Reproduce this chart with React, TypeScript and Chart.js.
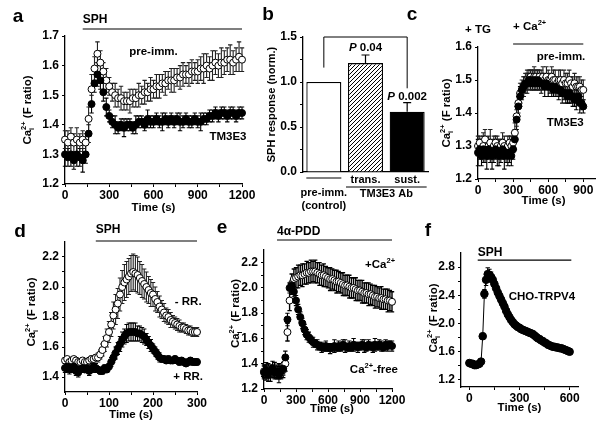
import React, { useEffect, useRef } from "react";
import { Chart, registerables } from "chart.js";

Chart.register(...registerables);

const FONT_FAMILY = '"Liberation Sans", Arial, Helvetica, sans-serif';
const font = (size: number, italic = false) =>
  `${italic ? "italic " : ""}bold ${size}px ${FONT_FAMILY}`;

// ---------------- DATA ----------------
// Panel a (time in s, Ca ratio)
const timeA = [
  0, 20, 40, 60, 80, 100, 120, 140, 160, 180,
  200, 220, 240, 260, 280, 300, 320, 340, 360, 380,
  400, 420, 440, 460, 480, 500, 520, 540, 560, 580,
  600, 620, 640, 660, 680, 700, 720, 740, 760, 780,
  800, 820, 840, 860, 880, 900, 920, 940, 960, 980,
  1000, 1020, 1040, 1060, 1080, 1100, 1120, 1140, 1160, 1180,
  1200,
];
const preImmA = [
  1.35, 1.34, 1.36, 1.34, 1.35, 1.34, 1.35, 1.34, 1.42, 1.52,
  1.59, 1.64, 1.61, 1.58, 1.55, 1.53, 1.51, 1.5, 1.49, 1.49,
  1.48, 1.48, 1.48, 1.49, 1.49, 1.5, 1.5, 1.51, 1.51, 1.52,
  1.52, 1.53, 1.53, 1.54, 1.54, 1.55, 1.55, 1.55, 1.56, 1.56,
  1.57, 1.57, 1.57, 1.58, 1.58, 1.58, 1.59, 1.59, 1.6, 1.59,
  1.6, 1.61, 1.6, 1.61, 1.61, 1.62, 1.62, 1.61, 1.62, 1.63,
  1.62,
];
const errPreImmA = [
  0.03, 0.04, 0.03, 0.03, 0.04, 0.03, 0.03, 0.03, 0.04, 0.05,
  0.04, 0.04, 0.04, 0.03, 0.04, 0.03, 0.03, 0.04, 0.03, 0.04,
  0.03, 0.03, 0.04, 0.03, 0.03, 0.04, 0.03, 0.04, 0.03, 0.04,
  0.03, 0.04, 0.04, 0.03, 0.04, 0.03, 0.04, 0.04, 0.03, 0.04,
  0.04, 0.03, 0.04, 0.04, 0.03, 0.04, 0.04, 0.05, 0.04, 0.04,
  0.05, 0.04, 0.04, 0.05, 0.04, 0.04, 0.05, 0.04, 0.04, 0.05,
  0.04,
];
const tm3e3A = [
  1.3, 1.29, 1.3, 1.28, 1.3, 1.29, 1.28, 1.3, 1.37, 1.47,
  1.54, 1.57, 1.55, 1.51, 1.46, 1.43, 1.41, 1.4, 1.39, 1.4,
  1.39, 1.4, 1.4, 1.39, 1.4, 1.41, 1.41, 1.4, 1.42, 1.41,
  1.41, 1.42, 1.41, 1.41, 1.42, 1.41, 1.42, 1.41, 1.42, 1.41,
  1.41, 1.42, 1.41, 1.41, 1.42, 1.41, 1.41, 1.42, 1.42, 1.43,
  1.43, 1.44, 1.43, 1.44, 1.44, 1.43, 1.44, 1.44, 1.43, 1.44,
  1.44,
];
const errTm3e3A = [
  0.04, 0.03, 0.04, 0.03, 0.04, 0.03, 0.04, 0.03, 0.03, 0.03,
  0.03, 0.04, 0.03, 0.03, 0.03, 0.02, 0.02, 0.03, 0.02, 0.02,
  0.03, 0.02, 0.02, 0.02, 0.03, 0.02, 0.02, 0.02, 0.03, 0.02,
  0.02, 0.02, 0.02, 0.03, 0.02, 0.02, 0.02, 0.02, 0.02, 0.03,
  0.02, 0.02, 0.02, 0.02, 0.02, 0.02, 0.03, 0.02, 0.02, 0.02,
  0.02, 0.02, 0.02, 0.02, 0.02, 0.02, 0.02, 0.02, 0.02, 0.02,
  0.02,
];

// Panel b (bars)
const barLabels = ["pre-imm.", "trans.", "sust."];
const barValues = [1.0, 1.21, 0.67];
const barErrors = [0, 0.09, 0.1];
const barPValues = ["", "0.04", "0.002"];

// Panel c
const timeC = [
  0, 15, 30, 45, 60, 75, 90, 105, 120, 135,
  150, 165, 180, 195, 210, 225, 240, 255, 270, 285,
  300, 315, 330, 345, 360, 375, 390, 405, 420, 435,
  450, 465, 480, 495, 510, 525, 540, 555, 570, 585,
  600, 615, 630, 645, 660, 675, 690, 705, 720, 735,
  750, 765, 780, 795, 810, 825, 840, 855, 870, 885,
  900,
];
const preImmC = [
  1.3, 1.31, 1.29, 1.3, 1.32, 1.29, 1.3, 1.31, 1.29, 1.3,
  1.31, 1.3, 1.29, 1.3, 1.31, 1.3, 1.29, 1.3, 1.31, 1.3,
  1.31, 1.34, 1.39, 1.43, 1.46, 1.47, 1.48, 1.49, 1.5, 1.5,
  1.51, 1.5, 1.51, 1.51, 1.5, 1.51, 1.5, 1.51, 1.5, 1.51,
  1.5, 1.5, 1.51, 1.5, 1.5, 1.49, 1.5, 1.5, 1.49, 1.5,
  1.49, 1.49, 1.5, 1.49, 1.48, 1.49, 1.48, 1.48, 1.48, 1.47,
  1.47,
];
const errPreImmC = [
  0.03, 0.02, 0.03, 0.04, 0.03, 0.02, 0.03, 0.04, 0.03, 0.03,
  0.02, 0.03, 0.03, 0.02, 0.03, 0.03, 0.02, 0.03, 0.02, 0.03,
  0.03, 0.03, 0.03, 0.03, 0.03, 0.03, 0.03, 0.03, 0.03, 0.03,
  0.02, 0.03, 0.03, 0.02, 0.03, 0.02, 0.03, 0.03, 0.02, 0.03,
  0.03, 0.02, 0.03, 0.03, 0.03, 0.02, 0.03, 0.03, 0.02, 0.03,
  0.03, 0.03, 0.03, 0.02, 0.03, 0.03, 0.03, 0.03, 0.03, 0.03,
  0.03,
];
const tm3e3C = [
  1.28, 1.29, 1.27, 1.29, 1.28, 1.27, 1.29, 1.28, 1.27, 1.28,
  1.29, 1.28, 1.27, 1.28, 1.29, 1.27, 1.28, 1.27, 1.28, 1.27,
  1.29, 1.32, 1.38, 1.42, 1.45, 1.47, 1.48, 1.49, 1.49, 1.5,
  1.5, 1.49, 1.5, 1.49, 1.5, 1.49, 1.49, 1.49, 1.48, 1.49,
  1.48, 1.48, 1.48, 1.47, 1.48, 1.47, 1.47, 1.47, 1.46, 1.46,
  1.46, 1.45, 1.46, 1.45, 1.45, 1.44, 1.44, 1.45, 1.43, 1.43,
  1.42,
];
const errTm3e3C = [
  0.04, 0.03, 0.03, 0.04, 0.03, 0.04, 0.03, 0.03, 0.04, 0.03,
  0.03, 0.04, 0.03, 0.03, 0.03, 0.04, 0.03, 0.03, 0.03, 0.03,
  0.03, 0.03, 0.03, 0.03, 0.03, 0.02, 0.03, 0.02, 0.03, 0.02,
  0.03, 0.02, 0.03, 0.02, 0.03, 0.02, 0.03, 0.02, 0.03, 0.02,
  0.03, 0.02, 0.03, 0.02, 0.03, 0.02, 0.03, 0.02, 0.03, 0.02,
  0.03, 0.02, 0.03, 0.02, 0.03, 0.02, 0.03, 0.02, 0.03, 0.02,
  0.02,
];

// Panel d
const timeD = [
  0, 5, 10, 15, 20, 25, 30, 35, 40, 45,
  50, 55, 60, 65, 70, 75, 80, 85, 90, 95,
  100, 105, 110, 115, 120, 125, 130, 135, 140, 145,
  150, 155, 160, 165, 170, 175, 180, 185, 190, 195,
  200, 205, 210, 215, 220, 225, 230, 235, 240, 245,
  250, 255, 260, 265, 270, 275, 280, 285, 290, 295,
  300,
];
const minusRR = [
  1.51, 1.52, 1.5, 1.51, 1.52, 1.51, 1.5, 1.5, 1.51, 1.5,
  1.5, 1.51, 1.52, 1.52, 1.53, 1.53, 1.55, 1.58, 1.62, 1.66,
  1.7, 1.75, 1.81, 1.85, 1.89, 1.95, 2.0, 2.03, 2.05, 2.07,
  2.09, 2.1, 2.09, 2.08, 2.06, 2.04, 2.02, 2.0, 1.98, 1.96,
  1.95, 1.92, 1.9, 1.87, 1.85, 1.83, 1.81, 1.8, 1.78, 1.77,
  1.76, 1.75, 1.74, 1.73, 1.73, 1.72, 1.71, 1.71, 1.7, 1.7,
  1.7,
];
const errMinusRR = [
  0.02, 0.01, 0.02, 0.02, 0.01, 0.02, 0.02, 0.01, 0.02, 0.02,
  0.01, 0.02, 0.02, 0.02, 0.02, 0.03, 0.03, 0.04, 0.05, 0.06,
  0.07, 0.08, 0.09, 0.1, 0.1, 0.11, 0.11, 0.12, 0.12, 0.12,
  0.12, 0.12, 0.12, 0.12, 0.11, 0.11, 0.1, 0.1, 0.09, 0.09,
  0.08, 0.08, 0.07, 0.07, 0.06, 0.06, 0.05, 0.05, 0.05, 0.04,
  0.04, 0.04, 0.04, 0.03, 0.03, 0.03, 0.03, 0.03, 0.03, 0.03,
  0.03,
];
const plusRR = [
  1.46, 1.47, 1.45, 1.46, 1.47, 1.44, 1.43, 1.45, 1.46, 1.45,
  1.46, 1.44, 1.45, 1.47, 1.46, 1.45, 1.44, 1.44, 1.46, 1.45,
  1.47, 1.5, 1.53, 1.56, 1.59, 1.62, 1.65, 1.67, 1.69, 1.7,
  1.7, 1.7, 1.7, 1.69, 1.69, 1.68, 1.67, 1.65, 1.63, 1.61,
  1.59, 1.57, 1.55, 1.53, 1.52, 1.52, 1.51, 1.52, 1.51, 1.51,
  1.52, 1.51, 1.5, 1.51, 1.5, 1.49, 1.5, 1.51, 1.5, 1.5,
  1.5,
];
const errPlusRR = [
  0.03, 0.02, 0.03, 0.03, 0.02, 0.03, 0.03, 0.02, 0.03, 0.02,
  0.02, 0.03, 0.02, 0.02, 0.03, 0.02, 0.02, 0.02, 0.02, 0.02,
  0.02, 0.03, 0.03, 0.04, 0.04, 0.05, 0.05, 0.05, 0.06, 0.06,
  0.06, 0.06, 0.06, 0.05, 0.05, 0.05, 0.05, 0.04, 0.04, 0.04,
  0.03, 0.03, 0.03, 0.03, 0.02, 0.02, 0.02, 0.02, 0.02, 0.02,
  0.02, 0.02, 0.02, 0.02, 0.02, 0.02, 0.02, 0.02, 0.02, 0.02,
  0.02,
];

// Panel e
const timeE = [
  0, 20, 40, 60, 80, 100, 120, 140, 160, 180,
  200, 220, 240, 260, 280, 300, 320, 340, 360, 380,
  400, 420, 440, 460, 480, 500, 520, 540, 560, 580,
  600, 620, 640, 660, 680, 700, 720, 740, 760, 780,
  800, 820, 840, 860, 880, 900, 920, 940, 960, 980,
  1000, 1020, 1040, 1060, 1080, 1100, 1120, 1140, 1160, 1180,
  1200,
];
const plusCaE = [
  1.34, 1.33, 1.35, 1.32, 1.34, 1.35, 1.33, 1.34, 1.33, 1.35,
  1.4, 1.65, 1.9, 2.03, 2.07, 2.08, 2.09, 2.1, 2.1, 2.11,
  2.12, 2.12, 2.13, 2.13, 2.13, 2.12, 2.11, 2.1, 2.1, 2.09,
  2.08, 2.07, 2.07, 2.06, 2.05, 2.05, 2.04, 2.03, 2.02, 2.02,
  2.01, 2.0, 2.0, 1.99, 1.98, 1.98, 1.97, 1.96, 1.96, 1.95,
  1.95, 1.94, 1.93, 1.93, 1.92, 1.92, 1.91, 1.91, 1.9, 1.9,
  1.89,
];
const errPlusCaE = [
  0.05, 0.06, 0.05, 0.06, 0.05, 0.06, 0.05, 0.06, 0.05, 0.06,
  0.06, 0.07, 0.08, 0.08, 0.08, 0.08, 0.09, 0.08, 0.09, 0.08,
  0.09, 0.08, 0.09, 0.08, 0.09, 0.08, 0.09, 0.08, 0.09, 0.08,
  0.08, 0.09, 0.08, 0.08, 0.09, 0.08, 0.08, 0.09, 0.08, 0.08,
  0.09, 0.08, 0.08, 0.09, 0.08, 0.08, 0.09, 0.08, 0.08, 0.09,
  0.08, 0.08, 0.09, 0.08, 0.08, 0.09, 0.08, 0.08, 0.09, 0.08,
  0.08,
];
const caFreeE = [
  1.33, 1.35, 1.31, 1.34, 1.36, 1.33, 1.34, 1.31, 1.34, 1.36,
  1.45, 1.75, 2.0, 2.02, 1.97, 1.9, 1.83, 1.77, 1.72, 1.67,
  1.63, 1.61, 1.59, 1.57, 1.56, 1.55, 1.54, 1.53, 1.53, 1.54,
  1.53, 1.52, 1.53, 1.54, 1.53, 1.54, 1.53, 1.55, 1.54, 1.53,
  1.54, 1.53, 1.55, 1.54, 1.53, 1.54, 1.55, 1.54, 1.53, 1.55,
  1.54, 1.53, 1.55, 1.54, 1.55, 1.54, 1.53, 1.55, 1.54, 1.55,
  1.54,
];
const errCaFreeE = [
  0.05, 0.06, 0.05, 0.05, 0.06, 0.05, 0.05, 0.06, 0.05, 0.05,
  0.05, 0.05, 0.04, 0.04, 0.04, 0.04, 0.04, 0.04, 0.04, 0.04,
  0.04, 0.04, 0.03, 0.04, 0.03, 0.04, 0.03, 0.04, 0.03, 0.04,
  0.03, 0.04, 0.03, 0.05, 0.03, 0.04, 0.03, 0.04, 0.05, 0.03,
  0.04, 0.03, 0.05, 0.03, 0.04, 0.03, 0.04, 0.05, 0.03, 0.04,
  0.03, 0.04, 0.05, 0.03, 0.04, 0.04, 0.03, 0.04, 0.04, 0.03,
  0.04,
];

// Panel f
const timeF = [
  0, 10, 20, 30, 40, 50, 60, 70, 80, 90,
  100, 110, 120, 130, 140, 150, 160, 170, 180, 190,
  200, 210, 220, 230, 240, 250, 260, 270, 280, 290,
  300, 310, 320, 330, 340, 350, 360, 370, 380, 390,
  400, 410, 420, 430, 440, 450, 460, 470, 480, 490,
  500, 510, 520, 530, 540, 550, 560, 570, 580, 590,
  600,
];
const trpv4F = [
  1.44, 1.43, 1.43, 1.41, 1.41, 1.42, 1.43, 1.46, 1.82, 2.42,
  2.62, 2.7, 2.69, 2.66, 2.62, 2.56, 2.5, 2.44, 2.39, 2.34,
  2.29, 2.24, 2.18, 2.13, 2.09, 2.05, 2.02, 1.99, 1.97, 1.95,
  1.94, 1.92, 1.91, 1.9, 1.89, 1.88, 1.87, 1.86, 1.85, 1.83,
  1.81, 1.79, 1.78, 1.76, 1.75, 1.73, 1.72, 1.7, 1.69, 1.68,
  1.67, 1.67, 1.66, 1.66, 1.65, 1.65, 1.64, 1.63, 1.62, 1.61,
  1.6,
];
const errF = [
  0.02, 0.02, 0.02, 0.02, 0.02, 0.02, 0.02, 0.02, 0.04, 0.06,
  0.08, 0.09, 0.08, 0.07, 0.06, 0.05, 0.04, 0.04, 0.03, 0.03,
  0.03, 0.03, 0.03, 0.02, 0.02, 0.02, 0.02, 0.02, 0.02, 0.02,
  0.02, 0.02, 0.02, 0.02, 0.02, 0.02, 0.02, 0.02, 0.02, 0.02,
  0.02, 0.02, 0.02, 0.02, 0.02, 0.02, 0.02, 0.02, 0.02, 0.02,
  0.02, 0.02, 0.02, 0.02, 0.02, 0.02, 0.02, 0.02, 0.02, 0.02,
  0.02,
];

// Axis ticks
const ticksX1200 = [0, 150, 300, 450, 600, 750, 900, 1050, 1200];
const labelsX1200 = [0, 300, 600, 900, 1200];
const ticksYA = [1.2, 1.3, 1.4, 1.5, 1.6, 1.7];
const ticksYB = [0, 0.25, 0.5, 0.75, 1.0, 1.25, 1.5];
const labelsYB = [0, 0.5, 1.0, 1.5];
const ticksXC = [0, 150, 300, 450, 600, 750, 900];
const labelsXC = [0, 300, 600, 900];
const ticksYC = [1.2, 1.3, 1.4, 1.5, 1.6];
const ticksXD = [0, 50, 100, 150, 200, 250, 300];
const labelsXD = [0, 100, 200, 300];
const ticksYD = [1.4, 1.5, 1.6, 1.7, 1.8, 1.9, 2.0, 2.1, 2.2];
const labelsYD = [1.4, 1.6, 1.8, 2.0, 2.2];
const ticksYE = [1.2, 1.3, 1.4, 1.5, 1.6, 1.7, 1.8, 1.9, 2.0, 2.1, 2.2];
const labelsYE = [1.2, 1.4, 1.6, 1.8, 2.0, 2.2];
const ticksXF = [0, 150, 300, 450, 600];
const labelsXF = [0, 300, 600];
const ticksYF = [1.2, 1.4, 1.6, 1.8, 2.0, 2.2, 2.4, 2.6, 2.8];
const labelsYF = [1.2, 1.6, 2.0, 2.4, 2.8];

// ---------------- HELPERS ----------------
const PAGE_W = 600;
const PAGE_H = 421;
const TICK_SIZE = 12;
const LABEL_SIZE = 11.5;
type Area = { l: number; t: number; r: number; b: number };
type AxisSpec = { min: number; max: number; ticks: number[]; labels: number[]; dec: number };
type Part = { t: string; sup?: string; sub?: string; italic?: boolean };

function linearAxis(spec: AxisSpec, dir: "x" | "y", size: number) {
  const isLabeled = (v: number) => spec.labels.some((l) => Math.abs(l - v) < 1e-6);
  return {
    type: "linear",
    position: dir === "x" ? "bottom" : "left",
    min: spec.min,
    max: spec.max,
    grid: { display: true, drawOnChartArea: false, drawTicks: true, tickLength: 3, color: "#000", lineWidth: 1 },
    border: { display: true, color: "#000", width: 1.3 },
    ticks: {
      autoSkip: false,
      maxRotation: 0,
      minRotation: 0,
      padding: dir === "x" ? 1 : 3,
      color: "#000",
      font: { family: FONT_FAMILY, size: TICK_SIZE, weight: "bold" },
      callback: (v: any) => (isLabeled(Number(v)) ? Number(v).toFixed(spec.dec) : ""),
    },
    afterBuildTicks: (scale: any) => {
      scale.ticks = spec.ticks.map((v) => ({ value: v }));
    },
    afterFit: (scale: any) => {
      if (dir === "x") scale.height = size;
      else scale.width = size;
    },
  };
}

const errorBarPlugin = {
  id: "errorBars",
  beforeDatasetsDraw(chart: any) {
    const ctx: CanvasRenderingContext2D = chart.ctx;
    const ys = chart.scales.y;
    chart.data.datasets.forEach((ds: any, di: number) => {
      const errs: number[] | undefined = ds.errorBars;
      if (!errs) return;
      const meta = chart.getDatasetMeta(di);
      ctx.save();
      ctx.strokeStyle = ds.errorColor || "#000";
      ctx.lineWidth = ds.errorWidth || 1;
      const cap = ds.capHalf ?? 2;
      meta.data.forEach((el: any, i: number) => {
        const e = errs[i];
        if (!e) return;
        const raw = ds.data[i];
        const v = typeof raw === "number" ? raw : raw.y;
        const x = el.x;
        const yTop = ys.getPixelForValue(v + e);
        const yBot = ds.errorMode === "up" ? ys.getPixelForValue(v) : ys.getPixelForValue(v - e);
        ctx.beginPath();
        ctx.moveTo(x, yTop);
        ctx.lineTo(x, yBot);
        ctx.moveTo(x - cap, yTop);
        ctx.lineTo(x + cap, yTop);
        if (ds.errorMode !== "up") {
          ctx.moveTo(x - cap, yBot);
          ctx.lineTo(x + cap, yBot);
        }
        ctx.stroke();
      });
      ctx.restore();
    });
  },
};

function partsWidth(ctx: CanvasRenderingContext2D, parts: Part[], size: number) {
  let w = 0;
  for (const p of parts) {
    ctx.font = font(size, p.italic);
    w += ctx.measureText(p.t).width;
    if (p.sup || p.sub) {
      ctx.font = font(size * 0.65);
      w += Math.max(p.sup ? ctx.measureText(p.sup).width : 0, p.sub ? ctx.measureText(p.sub).width : 0);
    }
  }
  return w;
}

function drawParts(
  ctx: CanvasRenderingContext2D,
  parts: Part[],
  x: number,
  y: number,
  size: number,
  align: "left" | "center" | "right" = "center"
) {
  const w = partsWidth(ctx, parts, size);
  let cx = align === "left" ? x : align === "right" ? x - w : x - w / 2;
  ctx.textAlign = "left";
  ctx.textBaseline = "middle";
  ctx.fillStyle = "#000";
  for (const p of parts) {
    ctx.font = font(size, p.italic);
    ctx.fillText(p.t, cx, y);
    cx += ctx.measureText(p.t).width;
    if (p.sup || p.sub) {
      ctx.font = font(size * 0.65);
      let sw = 0;
      if (p.sup) {
        ctx.fillText(p.sup, cx, y - size * 0.38);
        sw = ctx.measureText(p.sup).width;
      }
      if (p.sub) {
        ctx.fillText(p.sub, cx, y + size * 0.34);
        sw = Math.max(sw, ctx.measureText(p.sub).width);
      }
      cx += sw;
    }
  }
}

const text = (
  ctx: CanvasRenderingContext2D,
  s: string,
  x: number,
  y: number,
  size = LABEL_SIZE,
  align: "left" | "center" | "right" = "center"
) => drawParts(ctx, [{ t: s }], x, y, size, align);

function rotated(ctx: CanvasRenderingContext2D, parts: Part[], cx: number, cy: number, size = LABEL_SIZE) {
  ctx.save();
  ctx.translate(cx, cy);
  ctx.rotate(-Math.PI / 2);
  drawParts(ctx, parts, 0, 0, size, "center");
  ctx.restore();
}

function hline(ctx: CanvasRenderingContext2D, x1: number, x2: number, y: number, w = 1.2) {
  ctx.save();
  ctx.strokeStyle = "#000";
  ctx.lineWidth = w;
  ctx.beginPath();
  ctx.moveTo(x1, y);
  ctx.lineTo(x2, y);
  ctx.stroke();
  ctx.restore();
}

const letter = (ctx: CanvasRenderingContext2D, s: string, x: number, y: number) =>
  drawParts(ctx, [{ t: s }], x, y, 19, "center");

const CA_TITLE: Part[] = [{ t: "Ca", sup: "2+", sub: "i" }, { t: " (F ratio)" }];
const TIME_TITLE = "Time (s)";

function series(xs: number[], ys: number[], errs: number[], filled: boolean, r = 3.5, extra: any = {}) {
  return {
    data: xs.map((x, i) => ({ x, y: ys[i] })),
    errorBars: errs,
    errorColor: filled ? "#000" : "#222",
    errorWidth: 1.1,
    capHalf: 2.2,
    pointRadius: r,
    pointBorderWidth: 1,
    pointBackgroundColor: filled ? "#000" : "#fff",
    pointBorderColor: "#000",
    pointStyle: "circle",
    showLine: false,
    clip: false,
    ...extra,
  };
}

type Annot = (ch: any, ctx: CanvasRenderingContext2D, X: (v: number) => number, Y: (v: number) => number, ca: any) => void;

function annotPlugin(fn: Annot) {
  return {
    id: "annot",
    afterDraw(ch: any) {
      const ctx: CanvasRenderingContext2D = ch.ctx;
      const X = (v: number) => ch.scales.x.getPixelForValue(v);
      const Y = (v: number) => ch.scales.y.getPixelForValue(v);
      ctx.save();
      fn(ch, ctx, X, Y, ch.chartArea);
      ctx.restore();
    },
  };
}

function scatterConfig(area: Area, xs: AxisSpec, ys: AxisSpec, datasets: any[], annotate: Annot) {
  const yW = 30;
  const xH = 24;
  return {
    type: "scatter",
    data: { datasets },
    options: {
      responsive: false,
      animation: false,
      devicePixelRatio: 1,
      events: [],
      layout: {
        padding: { left: area.l - yW, top: area.t, right: PAGE_W - area.r, bottom: PAGE_H - area.b - xH },
      },
      plugins: { legend: { display: false }, tooltip: { enabled: false } },
      scales: { x: linearAxis(xs, "x", xH), y: linearAxis(ys, "y", yW) },
    },
    plugins: [errorBarPlugin, annotPlugin(annotate)],
  };
}

// ---------------- PANELS ----------------
const buildA = () =>
  scatterConfig(
    { l: 65, t: 36, r: 242, b: 184 },
    { min: 0, max: 1200, ticks: ticksX1200, labels: labelsX1200, dec: 0 },
    { min: 1.2, max: 1.7, ticks: ticksYA, labels: ticksYA, dec: 1 },
    [series(timeA, tm3e3A, errTm3e3A, true), series(timeA, preImmA, errPreImmA, false)],
    (ch, ctx, X, Y, ca) => {
      letter(ctx, "a", ca.left - 47, ca.top - 19);
      text(ctx, "SPH", X(120), ca.top - 16, 12, "left");
      hline(ctx, X(120), X(1200), ca.top - 7);
      text(ctx, "pre-imm.", X(600), Y(1.645));
      text(ctx, "TM3E3", X(1105), Y(1.36));
      rotated(ctx, CA_TITLE, ca.left - 37, (ca.top + ca.bottom) / 2);
      text(ctx, TIME_TITLE, (ca.left + ca.right) / 2, ca.bottom + 24);
    }
  );

const buildB = (ctx: CanvasRenderingContext2D) => {
  const pc = document.createElement("canvas");
  pc.width = 4;
  pc.height = 4;
  const p = pc.getContext("2d")!;
  p.fillStyle = "#fff";
  p.fillRect(0, 0, 4, 4);
  p.strokeStyle = "#000";
  p.lineWidth = 1;
  p.beginPath();
  p.moveTo(-1, 5);
  p.lineTo(5, -1);
  p.moveTo(-1, 1);
  p.lineTo(1, -1);
  p.moveTo(3, 5);
  p.lineTo(5, 3);
  p.stroke();
  const hatch = ctx.createPattern(pc, "repeat");
  const area = { l: 303, t: 37, r: 428, b: 172 };
  const yW = 30;
  return {
    type: "bar",
    data: {
      labels: barLabels,
      datasets: [
        {
          data: barValues,
          errorBars: barErrors,
          errorMode: "up",
          capHalf: 4,
          errorWidth: 1.2,
          backgroundColor: ["#fff", hatch, "#000"],
          borderColor: "#000",
          borderWidth: 1.3,
          barPercentage: 0.84,
          categoryPercentage: 1,
        },
      ],
    },
    options: {
      responsive: false,
      animation: false,
      devicePixelRatio: 1,
      events: [],
      layout: { padding: { left: area.l - yW, top: area.t, right: PAGE_W - area.r, bottom: PAGE_H - area.b } },
      plugins: { legend: { display: false }, tooltip: { enabled: false } },
      scales: {
        x: {
          type: "category",
          grid: { display: false },
          border: { display: true, color: "#000", width: 1.3 },
          ticks: { display: false },
          afterFit: (s: any) => {
            s.height = 0;
          },
        },
        y: linearAxis({ min: 0, max: 1.5, ticks: ticksYB, labels: labelsYB, dec: 1 }, "y", yW),
      },
    },
    plugins: [
      errorBarPlugin,
      annotPlugin((ch, c, X, Y, ca) => {
        const bars = ch.getDatasetMeta(0).data;
        const bx = bars.map((b: any) => b.x);
        const half = bars[0].width / 2;
        letter(c, "b", ca.left - 35, ca.top - 22);
        rotated(c, [{ t: "SPH response (norm.)" }], ca.left - 31, (ca.top + ca.bottom) / 2, 11);
        c.strokeStyle = "#000";
        c.lineWidth = 1;
        c.beginPath();
        c.moveTo(bx[0], Y(1.16));
        c.lineTo(bx[0], Y(1.5));
        c.lineTo(bx[2], Y(1.5));
        c.lineTo(bx[2], Y(0.93));
        c.stroke();
        drawParts(c, [{ t: "P", italic: true }, { t: " " + barPValues[1] }], bx[1], Y(1.38), LABEL_SIZE);
        drawParts(c, [{ t: "P", italic: true }, { t: " " + barPValues[2] }], bx[2], Y(0.83), LABEL_SIZE);
        text(c, barLabels[1], bx[1], ca.bottom + 8, 11);
        text(c, barLabels[2], bx[2], ca.bottom + 8, 11);
        hline(c, bx[0] - half, bx[0] + half, ca.bottom + 6, 1);
        text(c, barLabels[0], bx[0], ca.bottom + 21, 11);
        text(c, "(control)", bx[0], ca.bottom + 34, 11);
        hline(c, bx[1] - half - 2, bx[2] + half + 2, ca.bottom + 15, 1);
        text(c, "TM3E3 Ab", (bx[1] + bx[2]) / 2, ca.bottom + 22, 11);
      }),
    ],
  };
};

const buildC = () =>
  scatterConfig(
    { l: 478, t: 47, r: 595, b: 179 },
    { min: 0, max: 1000, ticks: ticksXC, labels: labelsXC, dec: 0 },
    { min: 1.2, max: 1.6, ticks: ticksYC, labels: ticksYC, dec: 1 },
    [series(timeC, tm3e3C, errTm3e3C, true), series(timeC, preImmC, errPreImmC, false)],
    (ch, ctx, X, Y, ca) => {
      letter(ctx, "c", ca.left - 66, ca.top - 32);
      text(ctx, "+ TG", X(0), ca.top - 17);
      drawParts(ctx, [{ t: "+ Ca", sup: "2+" }], X(300), ca.top - 20, LABEL_SIZE, "left");
      hline(ctx, X(300), X(900), ca.top - 3);
      text(ctx, "pre-imm.", X(900) + 2, Y(1.57), LABEL_SIZE, "right");
      text(ctx, "TM3E3", X(745), Y(1.37));
      rotated(ctx, CA_TITLE, ca.left - 31, (ca.top + ca.bottom) / 2);
      text(ctx, TIME_TITLE, X(560), ca.bottom + 22);
    }
  );

const buildD = () =>
  scatterConfig(
    { l: 65, t: 242, r: 197, b: 392 },
    { min: 0, max: 300, ticks: ticksXD, labels: labelsXD, dec: 0 },
    { min: 1.3, max: 2.3, ticks: ticksYD, labels: labelsYD, dec: 1 },
    [series(timeD, plusRR, errPlusRR, true), series(timeD, minusRR, errMinusRR, false)],
    (ch, ctx, X, Y, ca) => {
      letter(ctx, "d", ca.left - 45, ca.top - 10);
      text(ctx, "SPH", X(70), ca.top - 12, 12, "left");
      hline(ctx, X(70), X(300), ca.top - 1);
      text(ctx, "- RR.", X(280), Y(1.9));
      text(ctx, "+ RR.", X(280), Y(1.4));
      rotated(ctx, CA_TITLE, ca.left - 33, (ca.top + ca.bottom) / 2 - 5);
      text(ctx, TIME_TITLE, (ca.left + ca.right) / 2, ca.bottom + 23);
    }
  );

const buildE = () =>
  scatterConfig(
    { l: 264, t: 250, r: 392, b: 389 },
    { min: 0, max: 1200, ticks: ticksX1200, labels: labelsX1200, dec: 0 },
    { min: 1.2, max: 2.3, ticks: ticksYE, labels: labelsYE, dec: 1 },
    [series(timeE, caFreeE, errCaFreeE, true), series(timeE, plusCaE, errPlusCaE, false, 3.5, { errorColor: "#000", errorWidth: 1.4 })],
    (ch, ctx, X, Y, ca) => {
      letter(ctx, "e", ca.left - 42, ca.top - 22);
      text(ctx, "4\u03b1-PDD", X(122), ca.top - 18, 12, "left");
      hline(ctx, X(122), X(1200), ca.top - 10);
      drawParts(ctx, [{ t: "+Ca", sup: "2+" }], X(1200) + 3, Y(2.18), LABEL_SIZE, "right");
      drawParts(ctx, [{ t: "Ca", sup: "2+" }, { t: "-free" }], X(1200) + 6, Y(1.35), LABEL_SIZE, "right");
      rotated(ctx, CA_TITLE, ca.left - 28, (ca.top + ca.bottom) / 2 - 6);
      text(ctx, TIME_TITLE, (ca.left + ca.right) / 2 + 4, ca.bottom + 20);
    }
  );

const buildF = () =>
  scatterConfig(
    { l: 461, t: 253, r: 578, b: 387 },
    { min: -50, max: 650, ticks: ticksXF, labels: labelsXF, dec: 0 },
    { min: 1.1, max: 3.0, ticks: ticksYF, labels: labelsYF, dec: 1 },
    [series(timeF, trpv4F, errF, true, 3.8, { showLine: true, borderColor: "#000", borderWidth: 1 })],
    (ch, ctx, X, Y, ca) => {
      letter(ctx, "f", ca.left - 33, ca.top - 22);
      text(ctx, "SPH", X(50), ca.top, 12, "left");
      hline(ctx, X(50), X(610), Y(2.9));
      text(ctx, "CHO-TRPV4", X(434), Y(2.38));
      rotated(ctx, CA_TITLE, ca.left - 27, (ca.top + ca.bottom) / 2 - 2);
      text(ctx, TIME_TITLE, X(300), ca.bottom + 21);
    }
  );

function Panel({ build }: { build: (ctx: CanvasRenderingContext2D) => any }) {
  const ref = useRef<HTMLCanvasElement>(null);
  useEffect(() => {
    const canvas = ref.current!;
    const chart = new Chart(canvas, build(canvas.getContext("2d")!));
    return () => chart.destroy();
  }, []);
  return (
    <canvas
      ref={ref}
      width={PAGE_W}
      height={PAGE_H}
      style={{ position: "absolute", left: 0, top: 0, width: PAGE_W, height: PAGE_H }}
    />
  );
}

export default function App() {
  useEffect(() => {
    document.body.style.margin = "0";
  }, []);
  return (
    <div
      style={{
        position: "fixed",
        left: 0,
        top: 0,
        width: PAGE_W,
        height: PAGE_H,
        background: "#fff",
        overflow: "hidden",
      }}
    >
      <Panel build={buildA} />
      <Panel build={buildB} />
      <Panel build={buildC} />
      <Panel build={buildD} />
      <Panel build={buildE} />
      <Panel build={buildF} />
    </div>
  );
}
